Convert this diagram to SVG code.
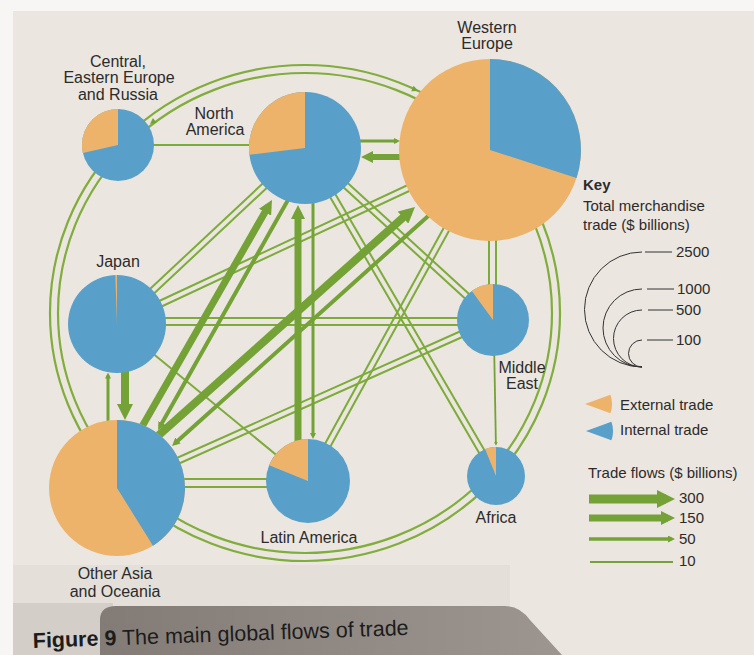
<svg xmlns="http://www.w3.org/2000/svg" width="754" height="655" viewBox="0 0 754 655">
<defs>
<marker id="ah" viewBox="0 0 10 10" refX="5" refY="5" markerWidth="2" markerHeight="2" orient="auto" markerUnits="strokeWidth"><path d="M0,0 L10,5 L0,10 Z" fill="#74a236"/></marker>
<linearGradient id="sh" x1="0" y1="0" x2="1" y2="0"><stop offset="0" stop-color="#837c76"/><stop offset="1" stop-color="#9d9690"/></linearGradient>
<style>
.ln{stroke:#7dab3a;stroke-width:2;fill:none}
.th{stroke:#74a236;fill:none;marker-end:url(#ah)}
.ring{stroke:#80ad3c;stroke-width:2.2;fill:none}
.blue{fill:#589fca}
.orange{fill:#eeb36b}
.lbl{font-family:"Liberation Sans",Arial,sans-serif;font-size:16px;fill:#2b2b2b;text-anchor:middle}
.key{font-family:"Liberation Sans",Arial,sans-serif;font-size:15px;fill:#2b2b2b}
.kl{stroke:#333;stroke-width:1;fill:none}
.la{stroke:#74a236;fill:none}
.ra{fill:#74a236}
</style>
</defs>
<rect width="754" height="655" fill="#f7f6f4"/>
<rect x="13" y="11" width="741" height="644" fill="#ebe6df"/>
<rect x="13" y="565" width="497" height="41" fill="#e4dfd9"/>
<rect x="13" y="603" width="100" height="52" fill="#d4cec8"/>
<path d="M100,655 L100,620 Q100,606 116,606 L505,606 Q520,606 530,620 L562,655 Z" fill="url(#sh)"/>

<g id="connectors">
<ellipse cx="305" cy="313" rx="255" ry="248" class="ring"/>
<ellipse cx="305" cy="313" rx="247" ry="240" class="ring"/>
<polygon class="ra" points="150,124 156.5,122.7 152.9,117.9"/>
<polygon class="ra" points="418,91 411.3,91.2 413.7,85.8"/>
<line class="ln" x1="118" y1="145" x2="305" y2="145"/>
<line class="ln" x1="119.05" y1="326.19" x2="307.05" y2="150.19"/>
<line class="ln" x1="114.95" y1="321.81" x2="302.95" y2="145.81"/>
<line class="ln" x1="118.27" y1="326.72" x2="491.27" y2="152.72"/>
<line class="ln" x1="115.73" y1="321.28" x2="488.73" y2="147.28"/>
<line class="ln" x1="117" y1="318" x2="493" y2="318"/>
<line class="ln" x1="117" y1="325" x2="493" y2="325"/>
<line class="ln" x1="302.97" y1="150.21" x2="490.97" y2="322.21"/>
<line class="ln" x1="307.03" y1="145.79" x2="495.03" y2="317.79"/>
<line class="ln" x1="302.41" y1="149.51" x2="493.41" y2="477.51"/>
<line class="ln" x1="307.59" y1="146.49" x2="498.59" y2="474.49"/>
<line class="ln" x1="489" y1="150" x2="489" y2="320"/>
<line class="ln" x1="496" y1="150" x2="496" y2="320"/>
<line class="ln" x1="487.37" y1="148.55" x2="305.37" y2="479.55"/>
<line class="ln" x1="492.63" y1="151.45" x2="310.63" y2="482.45"/>
<line class="ln" x1="118.22" y1="490.74" x2="494.22" y2="322.74"/>
<line class="ln" x1="115.78" y1="485.26" x2="491.78" y2="317.26"/>
<line class="ln" x1="117" y1="479" x2="308" y2="479"/>
<line class="ln" x1="117" y1="487" x2="308" y2="487"/>
<line class="ln" x1="117" y1="324" x2="308" y2="481"/>
<line class="th" stroke-width="1.8" x1="494" y1="340" x2="495.9" y2="444"/>
<line class="th" stroke-width="7" x1="137.8" y1="434.1" x2="268.5" y2="206.1"/>
<line class="th" stroke-width="4" x1="290.8" y1="195.1" x2="160" y2="426.5"/>
<line class="th" stroke-width="8" x1="157.3" y1="436.4" x2="409" y2="212.3"/>
<line class="th" stroke-width="4" x1="432.4" y1="212.2" x2="175" y2="443.3"/>
<line class="th" stroke-width="7" x1="298" y1="460" x2="298" y2="212"/>
<line class="th" stroke-width="3" x1="313" y1="180" x2="313" y2="436"/>
<line class="th" stroke-width="8" x1="125" y1="360" x2="125" y2="412"/>
<line class="th" stroke-width="3" x1="108" y1="430" x2="108" y2="375.5"/>
<line class="th" stroke-width="3" x1="340" y1="141" x2="397" y2="141"/>
<line class="th" stroke-width="6" x1="430" y1="157" x2="367" y2="157"/>
</g>

<g id="n-cee">
<circle cx="118" cy="145" r="36" class="blue"/>
<path d="M118,145 L82.9,153.1 A36,36 0 0,1 118,109 Z" class="orange"/>
<text class="lbl" x="118" y="67">Central,</text>
<text class="lbl" x="119" y="83">Eastern Europe</text>
<text class="lbl" x="118" y="100">and Russia</text>
</g>
<g id="n-na">
<circle cx="305" cy="148" r="56" class="blue"/>
<path d="M305,148 L249.4,154.8 A56,56 0 0,1 305,92 Z" class="orange"/>
<text class="lbl" x="214" y="119">North</text>
<text class="lbl" x="215" y="135">America</text>
</g>
<g id="n-we">
<circle cx="490" cy="150" r="91" class="orange"/>
<path d="M490,150 L490,59 A91,91 0 0,1 576.5,178.1 Z" class="blue"/>
<text class="lbl" x="487" y="33">Western</text>
<text class="lbl" x="487" y="49">Europe</text>
</g>
<g id="n-jp">
<circle cx="117" cy="324" r="49" class="blue"/>
<path d="M117,324 L115.3,275 A49,49 0 0,1 117,275 Z" class="orange"/>
<text class="lbl" x="118" y="267">Japan</text>
</g>
<g id="n-me">
<circle cx="493" cy="320" r="36" class="blue"/>
<path d="M493,320 L471.8,290.9 A36,36 0 0,1 493,284 Z" class="orange"/>
<text class="lbl" x="522" y="373">Middle</text>
<text class="lbl" x="522" y="389">East</text>
</g>
<g id="n-oao">
<circle cx="117" cy="488" r="68" class="orange"/>
<path d="M117,488 L117,420 A68,68 0 0,1 153,545.7 Z" class="blue"/>
<text class="lbl" x="115" y="579">Other Asia</text>
<text class="lbl" x="115" y="597">and Oceania</text>
</g>
<g id="n-la">
<circle cx="308" cy="481" r="42" class="blue"/>
<path d="M308,481 L269.1,465.3 A42,42 0 0,1 308,439 Z" class="orange"/>
<text class="lbl" x="309" y="543">Latin America</text>
</g>
<g id="n-af">
<circle cx="496" cy="476" r="29" class="blue"/>
<path d="M496,476 L485.1,449.1 A29,29 0 0,1 496,447 Z" class="orange"/>
<text class="lbl" x="496" y="523">Africa</text>
</g>

<g id="key">
<text class="key" x="583" y="190" font-weight="bold" font-size="16">Key</text>
<text class="key" x="583" y="211">Total merchandise</text>
<text class="key" x="583" y="230">trade ($ billions)</text>
<path class="kl" d="M642,252 A57.5,57.5 0 0,0 642,367 M645,252 H672"/>
<path class="kl" d="M642,289 A39,39 0 0,0 642,367 M647,289 H674"/>
<path class="kl" d="M642,310 A28.5,28.5 0 0,0 642,367 M648,310 H673"/>
<path class="kl" d="M642,340 A13.5,13.5 0 0,0 642,367 M647,340 H673"/>
<text class="key" x="676" y="257">2500</text>
<text class="key" x="677" y="294">1000</text>
<text class="key" x="676" y="315">500</text>
<text class="key" x="676" y="345">100</text>
<path d="M585,404 L610.4,394.8 A27,27 0 0,1 610.4,413.2 Z" class="orange"/>
<path d="M586,431 L611.4,421.8 A27,27 0 0,1 611.4,440.2 Z" class="blue"/>
<text class="key" x="620" y="410">External trade</text>
<text class="key" x="620" y="435">Internal trade</text>
<text class="key" x="588" y="478">Trade flows ($ billions)</text>
<line class="th" stroke-width="9" x1="589" y1="499" x2="666" y2="499"/>
<line class="th" stroke-width="7" x1="589" y1="518" x2="668" y2="518"/>
<line class="th" stroke-width="3.5" x1="589" y1="539" x2="671.5" y2="539"/>
<line class="la" stroke-width="2" x1="590" y1="562" x2="673" y2="562"/>
<text class="key" x="679" y="503">300</text>
<text class="key" x="679" y="523">150</text>
<text class="key" x="679" y="544">50</text>
<text class="key" x="679" y="566">10</text>
</g>

<text transform="rotate(-2 33 648)" x="33" y="648" font-family="'Liberation Sans',Arial,sans-serif" font-size="21.5" fill="#1c1c1c"><tspan font-weight="bold">Figure 9</tspan> The main global flows of trade</text>
</svg>
